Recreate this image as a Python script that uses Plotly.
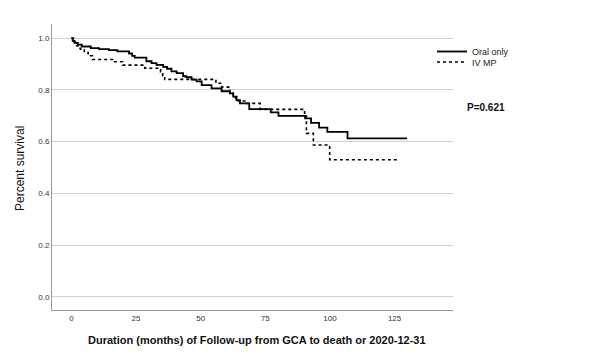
import plotly.graph_objects as go

# Kaplan-Meier step data (event time in months, survival after event)
oral_times = [0, 0.5, 1.2, 2.5, 4, 7.5, 10.7, 14.5, 17.8, 22.3, 23.5, 24.5, 29, 31, 32.9, 35.5, 37,
              38.7, 40.7, 43.2, 44.5, 46.5, 48.4, 50.4, 54.2, 58.1, 61.3, 62.6, 63.9, 65.2, 68.8,
              77.1, 80.1, 90.4, 92.7, 95.8, 99.0, 106.8, 129.8]
oral_surv = [1.0, 0.99, 0.982, 0.975, 0.968, 0.962, 0.958, 0.954, 0.949, 0.941, 0.932, 0.925, 0.911,
             0.904, 0.897, 0.889, 0.882, 0.872, 0.865, 0.853, 0.849, 0.840, 0.833, 0.819, 0.806,
             0.795, 0.787, 0.774, 0.761, 0.748, 0.726, 0.713, 0.700, 0.690, 0.673, 0.654, 0.638,
             0.613, 0.613]

iv_times = [0, 0.8, 1.5, 2.5, 3.5, 5, 6.5, 8.1, 15.9, 19.8, 28.4, 34.5, 35.3, 36.1, 55.9, 58.1,
            61.3, 62.6, 63.5, 64.5, 67.1, 73.0, 90.2, 90.9, 93.6, 99.9, 126.5]
iv_surv = [1.0, 0.985, 0.971, 0.961, 0.958, 0.945, 0.932, 0.918, 0.909, 0.896, 0.884, 0.870, 0.855,
           0.841, 0.826, 0.811, 0.792, 0.780, 0.767, 0.757, 0.748, 0.725, 0.703, 0.632, 0.587,
           0.530, 0.530]

x_ticks = [0, 25, 50, 75, 100, 125]
y_ticks = [0.0, 0.2, 0.4, 0.6, 0.8, 1.0]

FONT = "Arial, Liberation Sans, sans-serif"

fig = go.Figure()
fig.add_trace(go.Scatter(x=oral_times, y=oral_surv, mode="lines", line_shape="hv",
                         line=dict(color="black", width=1.8), name="Oral only",
                         legend="legend"))
fig.add_trace(go.Scatter(x=iv_times, y=iv_surv, mode="lines", line_shape="hv",
                         line=dict(color="black", width=1.6, dash="dot"), name="IV MP",
                         legend="legend2"))

L, R, T, B = 52, 152, 24, 47
W, H = 605, 357
pw, ph = W - L - R, H - T - B

def px_x(p):
    return (p - L) / pw

def px_y(p):
    return (H - B - p) / ph

leg_common = dict(font=dict(family=FONT, size=9, color="#222"), bgcolor="rgba(0,0,0,0)",
                  borderwidth=0, itemwidth=30, xanchor="left", yanchor="middle",
                  x=px_x(432))
fig.update_layout(
    width=W, height=H,
    margin=dict(l=L, r=R, t=T, b=B),
    paper_bgcolor="white", plot_bgcolor="white",
    font=dict(family=FONT, color="#222"),
    showlegend=True,
    legend=dict(**leg_common, y=px_y(51.5)),
    legend2=dict(**leg_common, y=px_y(62.0)),
    xaxis=dict(range=[-7.5, 147.6], tickvals=x_ticks, showgrid=False, zeroline=False,
               showline=True, linecolor="#999", linewidth=1, ticks="",
               tickfont=dict(family=FONT, size=8, color="#333")),
    yaxis=dict(range=[-0.051, 1.055], tickvals=y_ticks, tickformat=".1f", showgrid=True,
               gridcolor="#d0d0d0", gridwidth=1, zeroline=False, showline=True,
               linecolor="#999", linewidth=1, ticks="",
               tickfont=dict(family=FONT, size=8, color="#333")),
    annotations=[
        dict(text="Duration (months) of Follow-up from GCA to death or 2020-12-31",
             xref="paper", yref="paper", x=px_x(256.5), y=px_y(340), xanchor="center",
             yanchor="middle", showarrow=False,
             font=dict(family=FONT, size=11, color="#111", weight="bold")),
        dict(text="Percent survival", xref="paper", yref="paper", x=px_x(20), y=px_y(169),
             xanchor="center", yanchor="middle", textangle=-90, showarrow=False,
             font=dict(family=FONT, size=12, color="#111")),
        dict(text="<b>P=0.621</b>", xref="paper", yref="paper", x=px_x(465), y=px_y(107),
             xanchor="left", yanchor="middle", showarrow=False,
             font=dict(family=FONT, size=10, color="#111")),
    ],
)

fig.write_html("out.html", post_script="document.body.style.margin='0';",
               config={"displayModeBar": False})
